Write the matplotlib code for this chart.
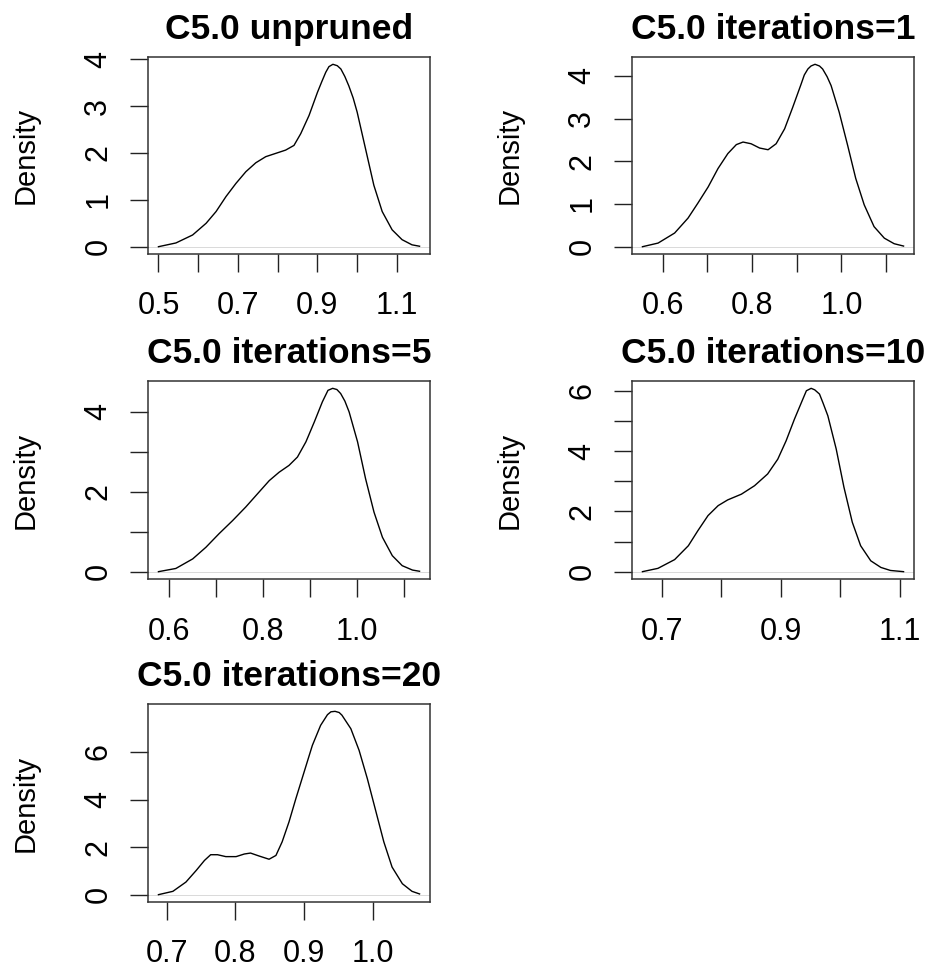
import numpy as np
import matplotlib
matplotlib.use("Agg")
import matplotlib.pyplot as plt

plt.rcParams['font.family'] = ['Liberation Sans', 'DejaVu Sans']

# density curves (x = accuracy, y = density)
titles = ["C5.0 unpruned", "C5.0 iterations=1", "C5.0 iterations=5",
          "C5.0 iterations=10", "C5.0 iterations=20"]

x_unpruned = [0.500, 0.544, 0.586, 0.620, 0.645, 0.670, 0.695, 0.720, 0.745, 0.770,
              0.795, 0.820, 0.841, 0.858, 0.879, 0.900, 0.911, 0.921, 0.929, 0.939,
              0.950, 0.959, 0.969, 0.979, 0.990, 1.000, 1.021, 1.042, 1.063, 1.088,
              1.113, 1.138, 1.157]
y_unpruned = [0.00, 0.08, 0.25, 0.50, 0.75, 1.07, 1.35, 1.60, 1.79, 1.92,
              1.99, 2.06, 2.16, 2.41, 2.80, 3.29, 3.52, 3.72, 3.84, 3.89,
              3.86, 3.79, 3.63, 3.43, 3.17, 2.87, 2.09, 1.31, 0.75, 0.36,
              0.15, 0.04, 0.01]

x_it1 = [0.555, 0.590, 0.627, 0.657, 0.679, 0.702, 0.724, 0.746, 0.765, 0.780,
         0.798, 0.817, 0.836, 0.854, 0.873, 0.891, 0.910, 0.917, 0.925, 0.932,
         0.941, 0.951, 0.958, 0.968, 0.977, 0.995, 1.014, 1.032, 1.051, 1.073,
         1.096, 1.118, 1.139]
y_it1 = [0.00, 0.085, 0.32, 0.67, 1.02, 1.40, 1.83, 2.18, 2.39, 2.45,
         2.41, 2.31, 2.27, 2.41, 2.76, 3.26, 3.81, 4.02, 4.16, 4.23,
         4.27, 4.23, 4.16, 3.98, 3.77, 3.15, 2.37, 1.60, 0.98, 0.47,
         0.20, 0.07, 0.015]

x_it5 = [0.577, 0.614, 0.650, 0.678, 0.706, 0.735, 0.763, 0.791, 0.813, 0.834,
         0.855, 0.873, 0.891, 0.909, 0.926, 0.938, 0.948, 0.957, 0.965, 0.974,
         0.983, 1.001, 1.018, 1.036, 1.054, 1.075, 1.096, 1.118, 1.133]
y_it5 = [0.00, 0.08, 0.32, 0.61, 0.95, 1.28, 1.62, 1.99, 2.28, 2.49,
         2.66, 2.87, 3.25, 3.75, 4.25, 4.54, 4.59, 4.56, 4.46, 4.27,
         4.00, 3.25, 2.33, 1.49, 0.86, 0.40, 0.15, 0.04, 0.01]

x_it10 = [0.668, 0.694, 0.722, 0.745, 0.761, 0.778, 0.795, 0.811, 0.834, 0.856,
          0.878, 0.895, 0.909, 0.923, 0.937, 0.943, 0.951, 0.957, 0.965, 0.971,
          0.979, 0.993, 1.006, 1.020, 1.034, 1.051, 1.068, 1.084, 1.106]
y_it10 = [0.00, 0.11, 0.40, 0.86, 1.36, 1.86, 2.19, 2.38, 2.57, 2.85,
          3.24, 3.73, 4.34, 5.06, 5.72, 6.00, 6.08, 6.03, 5.89, 5.59,
          5.17, 4.07, 2.80, 1.64, 0.86, 0.36, 0.14, 0.04, 0.00]

x_it20 = [0.688, 0.709, 0.728, 0.743, 0.755, 0.764, 0.774, 0.786, 0.801, 0.813,
          0.822, 0.834, 0.849, 0.859, 0.868, 0.878, 0.888, 0.900, 0.912, 0.924,
          0.934, 0.939, 0.945, 0.951, 0.955, 0.968, 0.980, 0.992, 1.004, 1.016,
          1.028, 1.043, 1.057, 1.068]
y_it20 = [0.00, 0.14, 0.53, 1.02, 1.44, 1.68, 1.68, 1.60, 1.60, 1.71,
          1.75, 1.63, 1.49, 1.65, 2.22, 3.06, 4.04, 5.16, 6.28, 7.12,
          7.57, 7.69, 7.71, 7.66, 7.55, 6.98, 6.07, 4.88, 3.55, 2.22,
          1.16, 0.46, 0.14, 0.03]

curves = [(x_unpruned, y_unpruned), (x_it1, y_it1), (x_it5, y_it5),
          (x_it10, y_it10), (x_it20, y_it20)]

# axis ticks (R drops labels that would overlap)
x_ticks = [[0.5, 0.6, 0.7, 0.8, 0.9, 1.0, 1.1],
           [0.6, 0.7, 0.8, 0.9, 1.0, 1.1],
           [0.6, 0.7, 0.8, 0.9, 1.0, 1.1],
           [0.7, 0.8, 0.9, 1.0, 1.1],
           [0.7, 0.8, 0.9, 1.0]]
x_labeled = [[0.5, 0.7, 0.9, 1.1],
             [0.6, 0.8, 1.0],
             [0.6, 0.8, 1.0],
             [0.7, 0.9, 1.1],
             [0.7, 0.8, 0.9, 1.0]]
y_ticks = [[0, 1, 2, 3, 4], [0, 1, 2, 3, 4], [0, 1, 2, 3, 4],
           [0, 1, 2, 3, 4, 5, 6], [0, 2, 4, 6]]
y_labeled = [[0, 1, 2, 3, 4], [0, 1, 2, 3, 4], [0, 2, 4],
             [0, 2, 4, 6], [0, 2, 4, 6]]

W, H = 930, 969
fig = plt.figure(figsize=(W / 100, H / 100), dpi=100)

# plot boxes in pixels: left, top, right, bottom
boxes = [(148, 57, 430, 254), (632, 57, 914, 254),
         (148, 381, 430, 579), (632, 381, 914, 579),
         (148, 704, 430, 902)]

for i, (bx, (xs, ys)) in enumerate(zip(boxes, curves)):
    l, t, r, b = bx
    ax = fig.add_axes([l / W, 1 - b / H, (r - l) / W, (b - t) / H])
    xs = np.array(xs)
    ys = np.array(ys)
    # R style limits: data range extended by 4 %
    dx = (xs.max() - xs.min()) * 0.04
    ax.set_xlim(xs.min() - dx, xs.max() + dx)
    top = ys.max()
    ax.set_ylim(-0.04 * top, 1.04 * top)
    ax.axhline(0, color='#bebebe', lw=0.4, zorder=1)
    ax.plot(xs, ys, color='black', lw=1.0, zorder=2, solid_joinstyle='round')

    ax.set_xticks(x_ticks[i])
    ax.set_xticklabels(['%.1f' % v if v in x_labeled[i] else '' for v in x_ticks[i]])
    ax.set_yticks(y_ticks[i])
    ax.set_yticklabels([str(v) if v in y_labeled[i] else '' for v in y_ticks[i]],
                       rotation=90, va='center')
    ax.tick_params(axis='x', direction='out', length=13, width=1, pad=14,
                   labelsize=22, color='#222222')
    ax.tick_params(axis='y', direction='out', length=13, width=1, pad=12,
                   labelsize=22, color='#222222')
    for sp in ax.spines.values():
        sp.set_linewidth(1.1)
        sp.set_color('#333333')
    ax.set_title(titles[i], fontsize=25.5, fontweight='bold', pad=13)
    ax.text(-0.433, 0.5, 'Density', transform=ax.transAxes, rotation=90,
            ha='center', va='center', fontsize=21)

fig.savefig('out.png', dpi=100)
